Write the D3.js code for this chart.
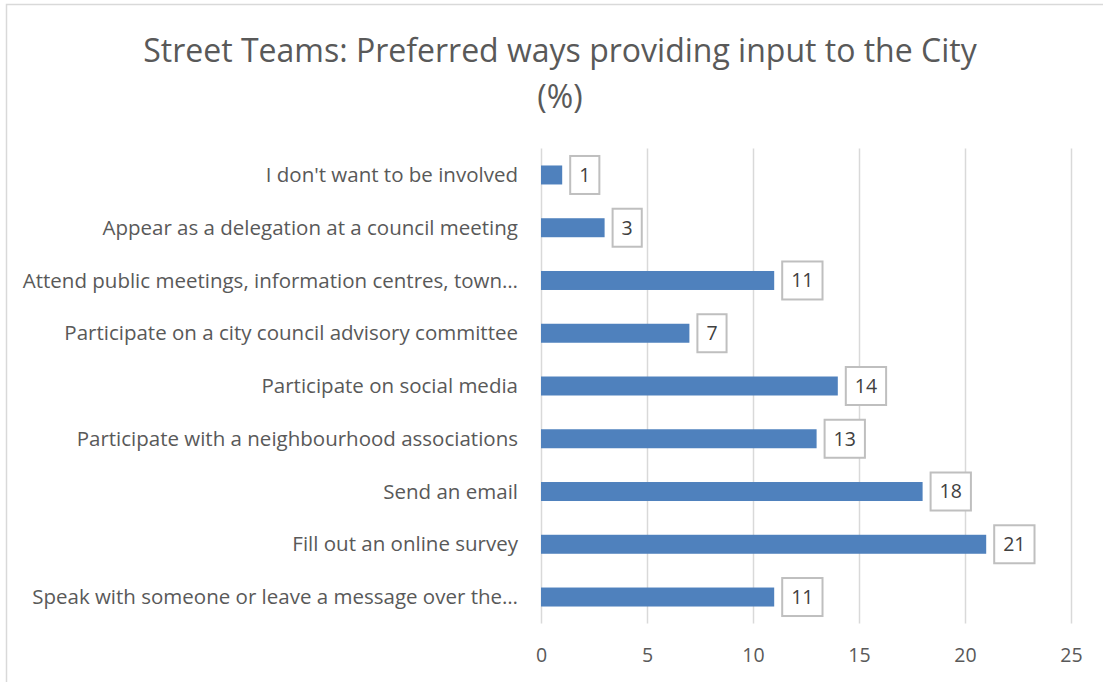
<!DOCTYPE html>
<html>
<head>
<meta charset="utf-8">
<script src="https://cdn.jsdelivr.net/npm/d3@7"></script>
<style>
  html, body { margin: 0; padding: 0; background: #fff; }
  svg { display: block; font-family: "Open Sans", sans-serif; }
</style>
</head>
<body>
<svg id="chart" width="1103" height="682"></svg>
<script>
const categories = [
  "I don't want to be involved",
  "Appear as a delegation at a council meeting",
  "Attend public meetings, information centres, town…",
  "Participate on a city council advisory committee",
  "Participate on social media",
  "Participate with a neighbourhood associations",
  "Send an email",
  "Fill out an online survey",
  "Speak with someone or leave a message over the…"
];
const values = [1, 3, 11, 7, 14, 13, 18, 21, 11];
const xTicks = [0, 5, 10, 15, 20, 25];
const titleLines = ["Street Teams: Preferred ways providing input to the City", "(%)"];

const svg = d3.select("#chart");

// chart border
svg.append("rect")
  .attr("x", 6.5).attr("y", 4.5)
  .attr("width", 1200).attr("height", 800)
  .attr("fill", "none").attr("stroke", "#D9D9D9").attr("stroke-width", 1.5);

const x = d3.scaleLinear().domain([0, 25]).range([541, 1071]);
const y = d3.scaleBand().domain(categories).range([148.6, 623.4])
  .paddingInner(0.64).paddingOuter(0.32);

// title
svg.append("text")
  .attr("x", 560).attr("y", 62)
  .attr("text-anchor", "middle")
  .attr("fill", "#595959").attr("font-size", 32)
  .selectAll("tspan").data(titleLines).join("tspan")
  .attr("x", 560).attr("dy", (d, i) => i === 0 ? 0 : 46)
  .text(d => d);

// gridlines
const grid = d3.axisBottom(x).tickValues(xTicks).tickSize(-(623.4 - 148.6)).tickFormat("");
svg.append("g").attr("transform", "translate(0,623.4)").call(grid)
  .call(g => g.select(".domain").remove())
  .call(g => g.selectAll("line").attr("stroke", "#D9D9D9").attr("stroke-width", 1.5));

// x tick labels
const xAxis = d3.axisBottom(x).tickValues(xTicks).tickSize(0).tickPadding(0);
svg.append("g").attr("transform", "translate(0,623.4)").call(xAxis)
  .call(g => g.select(".domain").remove())
  .call(g => g.selectAll("text")
    .attr("font-family", "Open Sans").attr("font-size", 19.5)
    .attr("fill", "#595959").attr("dy", 0).attr("y", 39));

// y category labels
const yAxis = d3.axisLeft(y).tickSize(0).tickPadding(0);
svg.append("g").attr("transform", "translate(518,0)").call(yAxis)
  .call(g => g.select(".domain").remove())
  .call(g => g.selectAll("text")
    .attr("font-family", "Open Sans").attr("font-size", 20.5)
    .attr("fill", "#595959").attr("dy", "0.35em"));

// bars
svg.append("g").selectAll("rect").data(values).join("rect")
  .attr("x", x(0))
  .attr("y", (d, i) => y(categories[i]))
  .attr("width", d => x(d) - x(0))
  .attr("height", y.bandwidth())
  .attr("fill", "#4F81BD");

// data labels with boxes
const lab = svg.append("g").selectAll("g").data(values).join("g")
  .attr("transform", (d, i) => `translate(${x(d) + 8},${y(categories[i]) + y.bandwidth() / 2})`);
const txt = lab.append("text")
  .attr("font-size", 19.5).attr("fill", "#404040")
  .attr("dy", "0.35em")
  .text(d => d);
txt.each(function() {
  const w = this.getComputedTextLength();
  const pad = 9;
  const bw = w + 2 * pad;
  d3.select(this).attr("x", bw / 2).attr("text-anchor", "middle");
  d3.select(this.parentNode).insert("rect", "text")
    .attr("x", 0).attr("y", -19).attr("width", bw).attr("height", 38)
    .attr("fill", "#fff").attr("stroke", "#BFBFBF").attr("stroke-width", 2);
});
</script>
</body>
</html>
